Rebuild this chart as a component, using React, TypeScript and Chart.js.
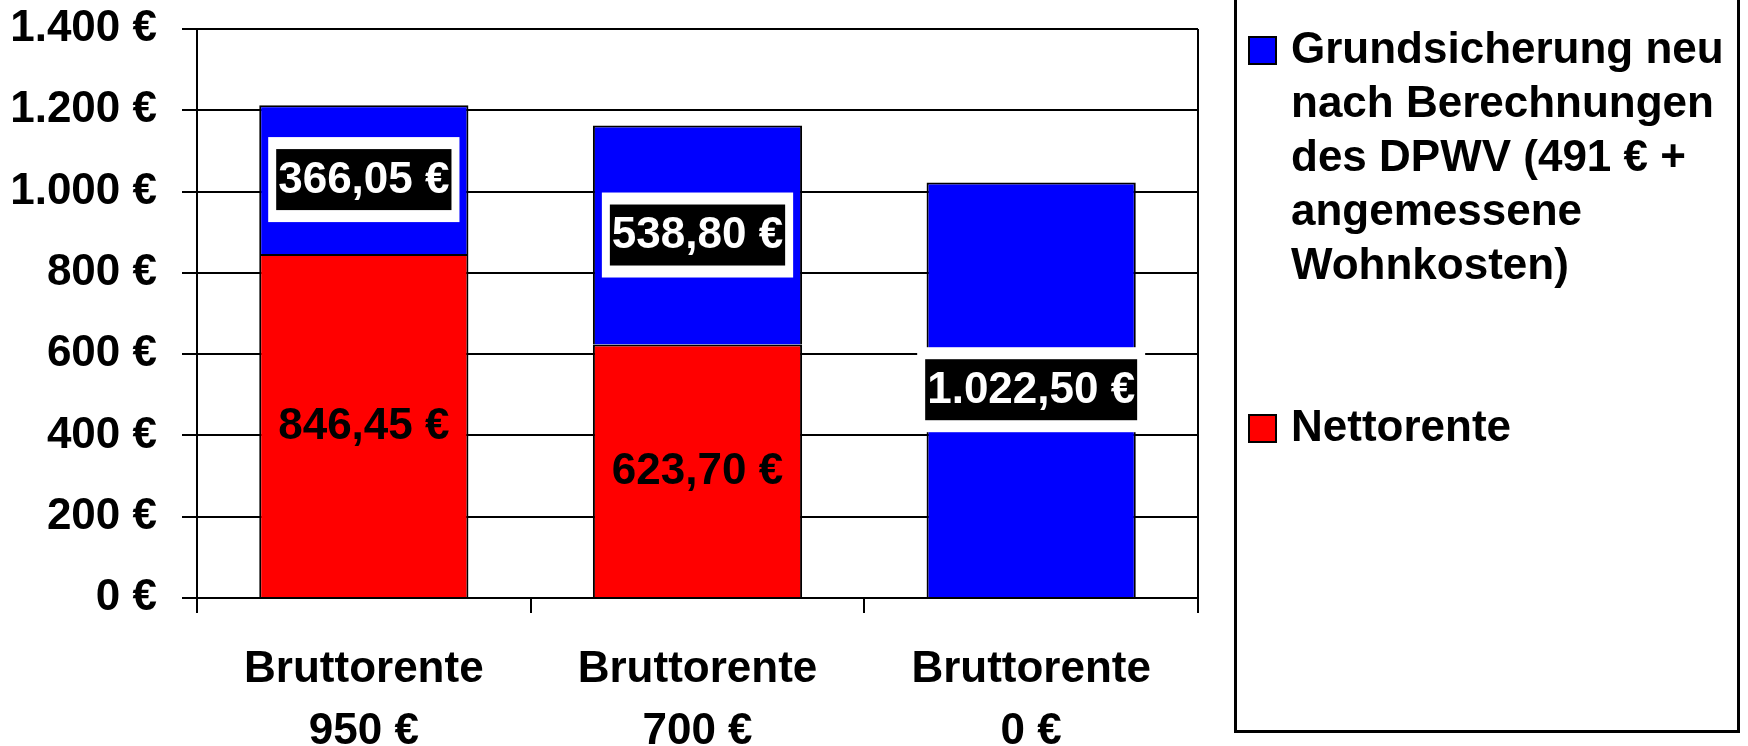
import React, { useEffect, useRef } from 'react';
import { Chart, registerables } from 'chart.js';

Chart.register(...registerables);

const categories: string[][] = [
  ['Bruttorente', '950 €'],
  ['Bruttorente', '700 €'],
  ['Bruttorente', '0 €'],
];
const nettorente: (number | null)[] = [846.45, 623.7, null];
const grundsicherung: number[] = [366.05, 538.8, 1022.5];
const seriesNames = [
  'Nettorente',
  'Grundsicherung neu nach Berechnungen des DPWV (491 € + angemessene Wohnkosten)',
];
const legendLines: string[][] = [
  ['Grundsicherung neu', 'nach Berechnungen', 'des DPWV (491 € +', 'angemessene', 'Wohnkosten)'],
  ['Nettorente'],
];
const yMin = 0;
const yMax = 1400;
const yStep = 200;

const FONT = '"Liberation Sans", Arial, sans-serif';

function fmtEuro(v: number, decimals: number): string {
  const [i, d] = v.toFixed(decimals).split('.');
  const ii = i.replace(/\B(?=(\d{3})+(?!\d))/g, '.');
  return (d ? ii + ',' + d : ii) + ' €';
}

const labelPlugin = {
  id: 'valueLabels',
  afterDatasetsDraw(chart: any) {
    const ctx = chart.ctx;
    ctx.save();
    ctx.font = `bold 44px ${FONT}`;
    ctx.textAlign = 'center';
    ctx.textBaseline = 'middle';
    chart.data.datasets.forEach((ds: any, di: number) => {
      const meta = chart.getDatasetMeta(di);
      meta.data.forEach((bar: any, i: number) => {
        const v = ds.data[i];
        if (v == null || v === 0) return;
        const { x, y, base } = bar.getProps(['x', 'y', 'base'], true);
        const cy = (y + base) / 2;
        const text = fmtEuro(v, 2);
        if (di === 0) {
          ctx.fillStyle = '#000';
          ctx.fillText(text, x, cy + 1);
        } else {
          const w = ctx.measureText(text).width + 4;
          const h = 61;
          ctx.fillStyle = '#fff';
          ctx.fillRect(x - w / 2 - 8, cy - h / 2 - 12, w + 16, h + 24);
          ctx.fillStyle = '#000';
          ctx.fillRect(x - w / 2, cy - h / 2, w, h);
          ctx.fillStyle = '#fff';
          ctx.fillText(text, x, cy + 1);
        }
      });
    });
    ctx.restore();
  },
};

const framePlugin = {
  id: 'frameAndLegend',
  afterDraw(chart: any) {
    const ctx = chart.ctx;
    const a = chart.chartArea;
    ctx.save();
    // right border of plot area
    ctx.strokeStyle = '#000';
    ctx.lineWidth = 2;
    ctx.beginPath();
    ctx.moveTo(a.right, a.top);
    ctx.lineTo(a.right, a.bottom);
    ctx.stroke();

    // legend box (top edge lies outside the picture)
    ctx.lineWidth = 3;
    ctx.beginPath();
    ctx.moveTo(1235.5, -5);
    ctx.lineTo(1235.5, 731.5);
    ctx.lineTo(1738.5, 731.5);
    ctx.lineTo(1738.5, -5);
    ctx.stroke();

    const ds = chart.data.datasets;
    const entries = [
      { color: ds[1].backgroundColor, lines: legendLines[0], top: 50 },
      { color: ds[0].backgroundColor, lines: legendLines[1], top: 428 },
    ];
    ctx.font = `bold 44px ${FONT}`;
    ctx.textAlign = 'left';
    ctx.textBaseline = 'middle';
    entries.forEach((e) => {
      ctx.fillStyle = e.color;
      ctx.fillRect(1249, e.top - 13, 27, 27);
      ctx.lineWidth = 2;
      ctx.strokeStyle = '#000';
      ctx.strokeRect(1249, e.top - 13, 27, 27);
      ctx.fillStyle = '#000';
      e.lines.forEach((ln, k) => {
        ctx.fillText(ln, 1291, e.top + 1 + k * 54);
      });
    });
    ctx.restore();
  },
};

export default function App() {
  const ref = useRef<HTMLCanvasElement | null>(null);

  useEffect(() => {
    document.body.style.margin = '0';
    if (!ref.current) return;
    const chart = new Chart(ref.current, {
      type: 'bar',
      data: {
        labels: categories,
        datasets: [
          {
            label: seriesNames[0],
            data: nettorente,
            backgroundColor: '#ff0000',
            borderColor: '#000',
            borderWidth: 2,
            categoryPercentage: 1,
            barPercentage: 0.627,
          },
          {
            label: seriesNames[1],
            data: grundsicherung,
            backgroundColor: '#0000ff',
            borderColor: '#000',
            borderWidth: 2,
            categoryPercentage: 1,
            barPercentage: 0.627,
          },
        ],
      },
      options: {
        responsive: true,
        maintainAspectRatio: false,
        animation: false,
        layout: { padding: { top: 29, right: 550, left: 0, bottom: 0 } },
        plugins: {
          legend: { display: false },
          tooltip: { enabled: false },
          title: { display: false },
        },
        scales: {
          x: {
            stacked: true,
            afterFit: (s: any) => {
              s.height = 148;
              s.paddingLeft = 0;
              s.paddingRight = 0;
            },
            grid: {
              display: true,
              drawOnChartArea: false,
              drawTicks: true,
              tickLength: 15,
              color: '#000',
              lineWidth: 2,
              offset: true,
            },
            border: { display: true, color: '#000', width: 2 },
            ticks: {
              color: '#000',
              padding: 26,
              maxRotation: 0,
              autoSkip: false,
              font: { family: FONT, weight: 'bold', size: 44, lineHeight: 1.41 },
            },
          },
          y: {
            stacked: true,
            min: yMin,
            max: yMax,
            afterFit: (s: any) => {
              s.width = 197;
              s.paddingTop = 0;
              s.paddingBottom = 0;
            },
            grid: {
              color: '#000',
              lineWidth: 2,
              drawTicks: true,
              tickLength: 15,
            },
            border: { display: true, color: '#000', width: 2 },
            ticks: {
              stepSize: yStep,
              color: '#000',
              padding: 25,
              font: { family: FONT, weight: 'bold', size: 44 },
              callback: (v: any) => fmtEuro(Number(v), 0),
            },
          },
        },
      },
      plugins: [labelPlugin, framePlugin],
    });
    return () => chart.destroy();
  }, []);

  return (
    <div style={{ position: 'relative', width: '1748px', height: '746px' }}>
      <canvas ref={ref} />
    </div>
  );
}
